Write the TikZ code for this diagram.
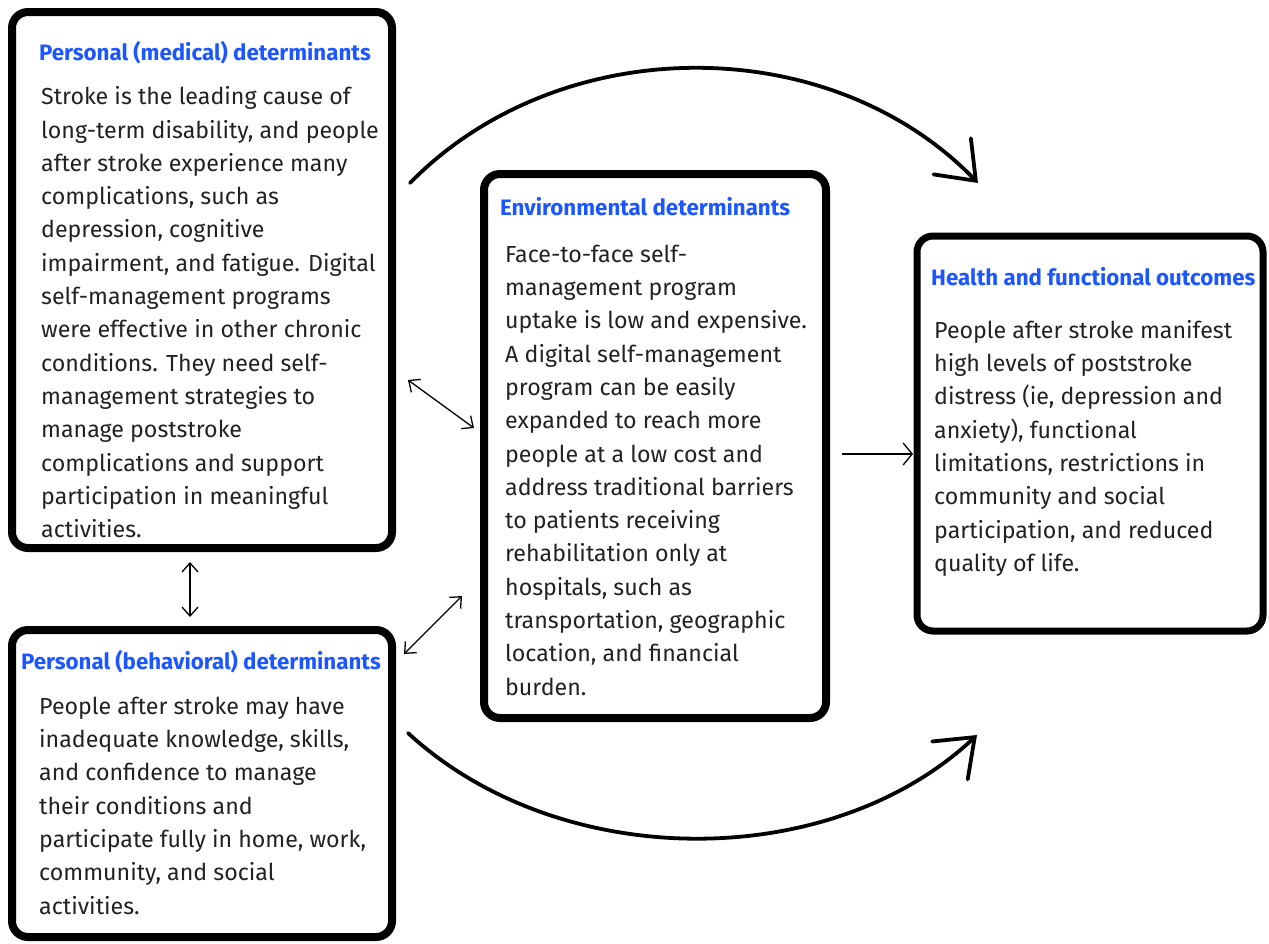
\documentclass[tikz,border=0pt]{standalone}
\usepackage{fontspec}
\setmainfont{Fira Sans}
\usetikzlibrary{arrows.meta}
\definecolor{titleblue}{RGB}{28,86,255}
\definecolor{textgray}{RGB}{34,34,34}
\tikzset{
  box/.style={draw=black, line width=8pt, rounded corners=16pt, inner sep=0pt, fill=white},
  ttl/.style={anchor=base west, inner sep=0pt, text=titleblue, font=\bfseries\fontsize{22.3}{26}\selectfont},
  body/.style={anchor=north west, inner sep=0pt, align=left, text=textgray, font=\fontsize{23.2}{33.3}\selectfont},
  bigarrow/.style={line width=3.8pt, line cap=round, -{Straight Barb[length=34pt,width=52pt,line cap=round]}},
  thinarrow/.style={line width=1.3pt, {Straight Barb[length=9pt,width=16pt]}-{Straight Barb[length=9pt,width=16pt]}},
  onearrow/.style={line width=1.3pt, -{Straight Barb[length=9pt,width=22pt]}}
}
\begin{document}
\begin{tikzpicture}[x=1pt,y=-1pt]
\useasboundingbox (0,0) rectangle (1269,943);
% boxes
\node[box, minimum width=380pt, minimum height=536pt] (med) at (202,280) {};
\node[box, minimum width=380pt, minimum height=307pt] (beh) at (202,783.5) {};
\node[box, minimum width=342pt, minimum height=544pt] (env) at (655,446) {};
\node[box, line width=7pt, minimum width=346pt, minimum height=395pt] (out) at (1090,433.5) {};
% titles
\node[ttl] (medt) at (39,60) {Personal (medical) determinants};
\node[ttl] (beht) at (21,669) {Personal (behavioral) determinants};
\node[ttl] (envt) at (500,215) {Environmental determinants};
\node[ttl] (outt) at (931,285) {Health and functional outcomes};
% bodies
\node[body] (medb) at (41,104.5-22) {\rule{0pt}{22pt}Stroke is the leading cause of\\
long-term disability, and people\\
after stroke experience many\\
complications, such as\\
depression, cognitive\\
impairment, and fatigue. Digital\\
self-management programs\\
were effective in other chronic\\
conditions. They need self-\\
management strategies to\\
manage poststroke\\
complications and support\\
participation in meaningful\\
activities.};
\node[body] (behb) at (39,714-22) {\rule{0pt}{22pt}People after stroke may have\\
inadequate knowledge, skills,\\
and confidence to manage\\
their conditions and\\
participate fully in home, work,\\
community, and social\\
activities.};
\node[body] (envb) at (505,262-22) {\rule{0pt}{22pt}Face-to-face self-\\
management program\\
uptake is low and expensive.\\
A digital self-management\\
program can be easily\\
expanded to reach more\\
people at a low cost and\\
address traditional barriers\\
to patients receiving\\
rehabilitation only at\\
hospitals, such as\\
transportation, geographic\\
location, and financial\\
burden.};
\node[body] (outb) at (934,338-22) {\rule{0pt}{22pt}People after stroke manifest\\
high levels of poststroke\\
distress (ie, depression and\\
anxiety), functional\\
limitations, restrictions in\\
community and social\\
participation, and reduced\\
quality of life.};
% connector endpoints
\coordinate (topS) at (410,183);
\coordinate (topE) at (978,183);
\coordinate (botS) at (408,733);
\coordinate (botE) at (977,735);
\coordinate (d1a) at (408,380);
\coordinate (d1b) at (474,428);
\coordinate (d2a) at (404,654);
\coordinate (d2b) at (462,596);
\coordinate (vA) at (190,562);
\coordinate (vB) at (190,617);
\coordinate (hA) at (842,454);
\coordinate (hB) at (913,454);
% connectors
\draw[bigarrow] (topS) .. controls (560,30) and (830,30) .. (topE);
\draw[bigarrow] (botS) .. controls (560,873) and (830,873) .. (botE);
\draw[thinarrow] (d1a) -- (d1b);
\draw[thinarrow] (d2a) -- (d2b);
\draw[thinarrow] (vA) -- (vB);
\draw[onearrow] (hA) -- (hB);
\end{tikzpicture}
\end{document}
